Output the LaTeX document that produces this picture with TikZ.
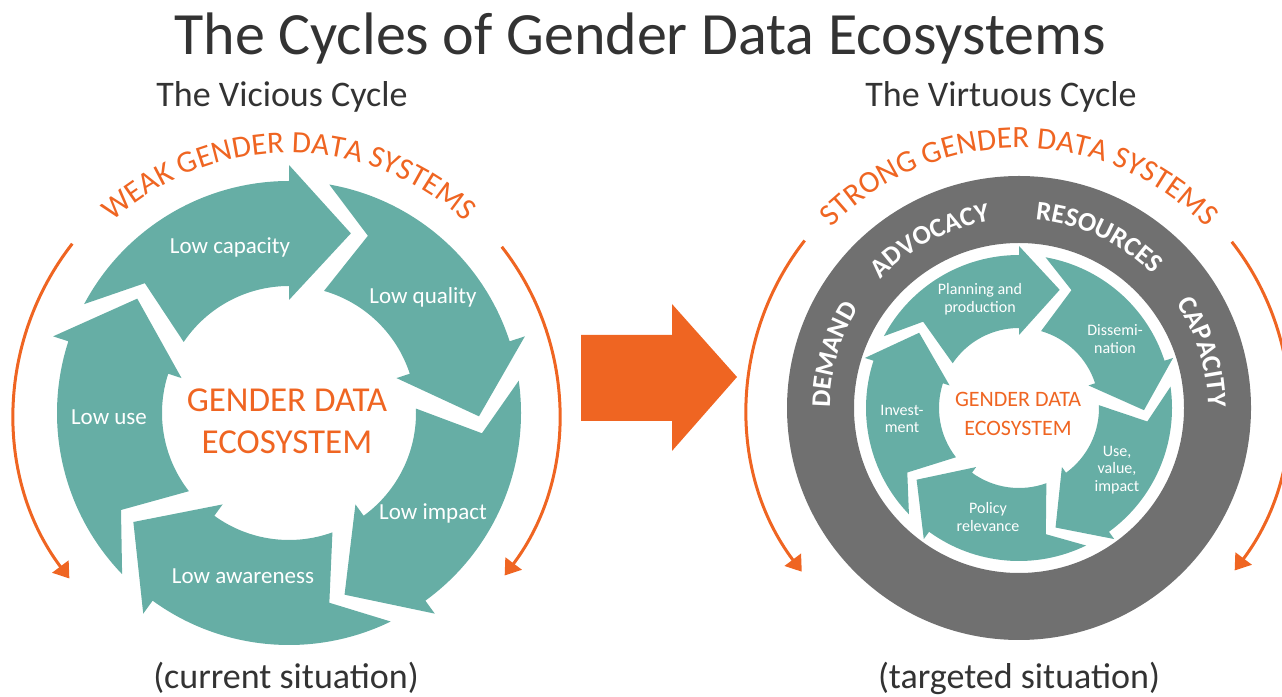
\documentclass[tikz,border=0pt]{standalone}
\usepackage{fontspec}
\setmainfont{Carlito}
\usetikzlibrary{arrows.meta,decorations.text}
\definecolor{cteal}{RGB}{102,174,165}
\definecolor{cgray}{RGB}{112,112,112}
\definecolor{corange}{RGB}{239,101,34}
\definecolor{ctext}{RGB}{51,51,51}
\newcommand\fsz[2]{\fontsize{#1}{#2}\selectfont}
% one curved block arrow of a cycle: #1 = angle of the head base
\newcommand\cycarrow[1]{%
  \fill[cteal] ({#1+62}:\cRo) arc[start angle={#1+62}, end angle={#1}, radius=\cRo]
    -- ({#1}:\cHo) -- ({#1-19}:\cTp) -- ({#1}:\cHi) -- ({#1}:\cRi)
    arc[start angle={#1}, end angle={#1+56}, radius=\cRi]
    -- ({#1+48}:\cNt) -- cycle;}
\begin{document}
\begin{tikzpicture}[x=1pt,y=1pt,
  arcarrow/.style={draw=corange, line width=3pt, -{Triangle[length=15pt,width=20pt]}},
  lbl/.style={text=white, font=\fsz{23}{27}, inner sep=0pt},
  slbl/.style={text=white, font=\fsz{16}{17.5}, align=center, inner sep=0pt},
  heading/.style={text=ctext, font=\fsz{36}{40}, inner sep=0pt, anchor=base},
  bigcenter/.style={text=corange, font=\fsz{35}{42}, align=center, inner sep=0pt},
  smallcenter/.style={text=corange, font=\fsz{22}{29}, align=center, inner sep=0pt},
  curvedtext/.style={decorate, decoration={text along path, text align=center, text={#1}}}
]
\useasboundingbox (0,0) rectangle (1282,696);

% title and headings
\node[text=ctext, font=\fsz{60}{62}, inner sep=0pt, anchor=base] (title) at (640,641) {The Cycles of Gender Data Ecosystems};
\node[heading] (vicious) at (282,589) {The Vicious Cycle};
\node[heading] (virtuous) at (1001,589) {The Virtuous Cycle};
\node[heading] (current) at (286,8) {(current situation)};
\node[heading] (targeted) at (1019,8) {(targeted situation)};

% big orange arrow
\fill[corange] (581,275) -- (672,275) -- (672,245) -- (737,319) -- (672,392) -- (672,361) -- (581,361) -- cycle;

% ---------- left: vicious cycle ----------
\begin{scope}[shift={(289,283)}]
  \def\cRo{232}\def\cRi{127}\def\cHo{248}\def\cHi{113}\def\cTp{190}\def\cNt{194}
  \cycarrow{90}\cycarrow{18}\cycarrow{-54}\cycarrow{-126}\cycarrow{162}
  \draw[arcarrow] (142:275) arc[start angle=142, end angle=217, radius=275];
  \draw[arcarrow] (38:270) arc[start angle=38, end angle=-37, radius=270];
  \path[curvedtext={|\fsz{31}{31}\color{corange}|WEAK GENDER DATA SYSTEMS}]
    (150:260) arc[start angle=150, end angle=30, radius=260];
\end{scope}
\node[lbl] (lcap) at (230,449) {Low capacity};
\node[lbl] (lqual) at (423,399) {Low quality};
\node[lbl] (luse) at (109,279) {Low use};
\node[lbl] (limp) at (433,183) {Low impact};
\node[lbl] (law) at (243,120) {Low awareness};
\node[bigcenter] (lcenter) at (287,275) {GENDER DATA\\ECOSYSTEM};

% ---------- right: virtuous cycle ----------
\begin{scope}[shift={(1019,288)}]
  \fill[cgray, even odd rule] (0,0) circle[radius=232] (0,0) circle[radius=165];
  \def\cRo{153}\def\cRi{80}\def\cHo{162}\def\cHi{73}\def\cTp{125}\def\cNt{129}
  \cycarrow{90}\cycarrow{18}\cycarrow{-54}\cycarrow{-126}\cycarrow{162}
  \draw[arcarrow] (142:272) arc[start angle=142, end angle=217, radius=272];
  \draw[arcarrow] (38:270) arc[start angle=38, end angle=-37, radius=270];
  \path[curvedtext={|\fsz{31}{31}\color{corange}|STRONG GENDER DATA SYSTEMS}]
    (150:260) arc[start angle=150, end angle=30, radius=260];
  \path[curvedtext={|\fsz{27}{27}\bfseries\color{white}|DEMAND}]
    (204:189) arc[start angle=204, end angle=124, radius=189];
  \path[curvedtext={|\fsz{27}{27}\bfseries\color{white}|ADVOCACY}]
    (158:189) arc[start angle=158, end angle=78, radius=189];
  \path[curvedtext={|\fsz{27}{27}\bfseries\color{white}|RESOURCES}]
    (105:189) arc[start angle=105, end angle=25, radius=189];
  \path[curvedtext={|\fsz{27}{27}\bfseries\color{white}|CAPACITY}]
    (57:189) arc[start angle=57, end angle=-23, radius=189];
\end{scope}
\node[slbl] (rplan) at (980,397) {Planning and\\production};
\node[slbl] (rdiss) at (1115,357) {Dissemi-\\nation};
\node[slbl] (rinv) at (902,277) {Invest-\\ment};
\node[slbl] (ruse) at (1117,226) {Use,\\value,\\impact};
\node[slbl] (rpol) at (988,179) {Policy\\relevance};
\node[smallcenter] (rcenter) at (1018,282) {GENDER DATA\\ECOSYSTEM};
\end{tikzpicture}
\end{document}
